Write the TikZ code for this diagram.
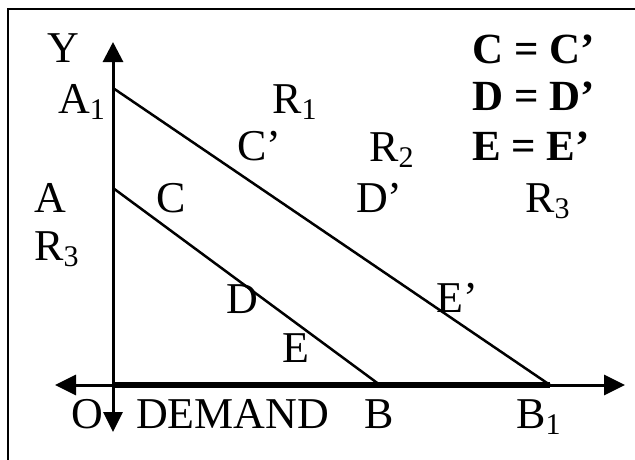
\documentclass[tikz,border=0pt]{standalone}
\usepackage{fontspec}
\setmainfont{Liberation Serif}
\usetikzlibrary{arrows.meta}
\newcommand\lowsub[1]{\raisebox{-6pt}{\fontsize{30}{30}\selectfont #1}}
\begin{document}
\begin{tikzpicture}[x=1pt,y=-1pt,
  lbl/.style={inner sep=0pt, anchor=base west, font=\fontsize{44}{50}\selectfont},
  bl/.style={inner sep=0pt, anchor=base west, font=\fontsize{43}{50}\selectfont\bfseries},
  ax/.style={line width=3pt},
  tip/.style={-{Triangle[length=20pt,width=20pt]}},
  dbl/.style={{Triangle[length=21pt,width=20pt]}-{Triangle[length=21pt,width=20pt]}},
  diag/.style={line width=2.5pt},
  frame/.style={line width=2.5pt}]
\useasboundingbox (0,0) rectangle (635,459);
% frame
\coordinate (FB) at (8,460);
\coordinate (FC) at (8,9);
\coordinate (FR) at (636,9);
\draw[frame] (FB) -- (FC) -- (FR);
% key points
\coordinate (O) at (113,385);
\coordinate (Ytop) at (113,42);
\coordinate (Ybot) at (113,432);
\coordinate (Xl) at (55,385);
\coordinate (Xr) at (625,385);
\coordinate (A1p) at (113,88);
\coordinate (Ap) at (113,188);
\coordinate (Bp) at (380,385);
\coordinate (B1p) at (550,385);
% axes
\draw[ax,dbl] (Xl) -- (Xr);
\draw[line width=6pt] (O) -- (B1p);
\draw[ax,tip] (O) -- (Ytop);
\draw[ax,-{Triangle[length=20pt,width=19pt]}] (O) -- (Ybot);
% demand lines
\draw[diag] (A1p) -- (B1p);
\draw[diag] (Ap) -- (Bp);
% labels
\node[lbl] (lY) at (47,62) {Y};
\node[lbl] (lA1) at (58,113) {A\lowsub{1}};
\node[lbl] (lR1) at (272,113) {R\lowsub{1}};
\node[lbl] (lCp) at (237,160) {C’};
\node[lbl] (lR2) at (369,161) {R\lowsub{2}};
\node[bl] (k1) at (472,63) {C = C’};
\node[bl] (k2) at (472,110) {D = D’};
\node[bl] (k3) at (472,160) {E = E’};
\node[lbl] (lA) at (34,212) {A};
\node[lbl] (lC) at (156,212) {C};
\node[lbl] (lDp) at (356,212) {D’};
\node[lbl] (lR3r) at (525,212) {R\lowsub{3}};
\node[lbl] (lR3l) at (34,260) {R\lowsub{3}};
\node[lbl] (lD) at (226,313) {D};
\node[lbl] (lEp) at (436,312) {E’};
\node[lbl] (lE) at (282,362) {E};
\node[lbl] (lO) at (71,428) {O};
\node[lbl] (lDem) at (136,428) {DEMAND};
\node[lbl] (lB) at (364,428) {B};
\node[lbl] (lB1) at (516,428) {B\lowsub{1}};
\end{tikzpicture}
\end{document}
